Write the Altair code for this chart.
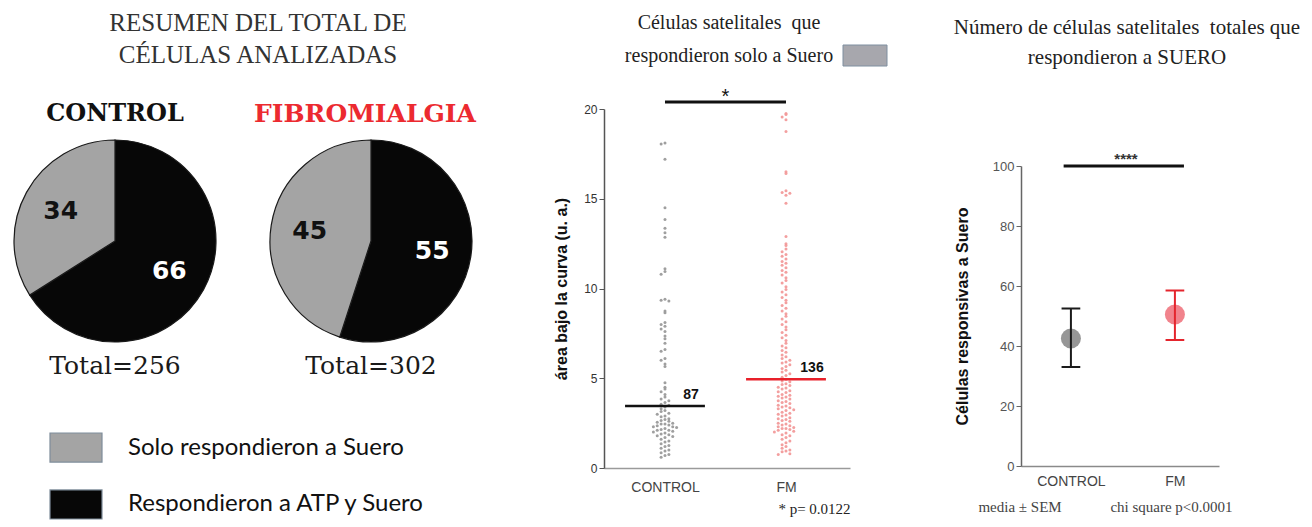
import json
import altair as alt
import pandas as pd

# ---------------- data ----------------
pie_groups = ["CONTROL", "FIBROMIALGIA"]
pie_totals = [256, 302]
pie_categories = ["Respondieron a ATP y Suero", "Solo respondieron a Suero"]
pie_control = [66, 34]
pie_fm = [55, 45]

groups = ["CONTROL", "FM"]
control_auc = [
    18.1, 18.05, 17.2, 14.5, 13.85, 13.35, 13.1, 12.85, 11.1, 10.95,
    10.8, 9.4, 9.35, 9.3, 8.75, 8.65, 8.1, 8.0, 7.9, 7.75,
    7.6, 7.35, 7.2, 6.95, 6.6, 6.5, 6.1, 6.0, 5.8, 5.65,
    4.75, 4.5, 4.4, 4.25, 4.1, 3.95, 3.85, 3.75, 3.65, 3.55,
    3.5, 3.4, 3.3, 3.2, 3.15, 3.05, 3.0, 2.9, 2.85, 2.75,
    2.7, 2.65, 2.6, 2.55, 2.5, 2.45, 2.45, 2.4, 2.35, 2.3,
    2.3, 2.25, 2.2, 2.15, 2.1, 2.1, 2.05, 2.0, 1.95, 1.9,
    1.85, 1.8, 1.75, 1.7, 1.6, 1.5, 1.45, 1.35, 1.25, 1.2,
    1.1, 1.0, 0.95, 0.85, 0.75, 0.7, 0.6,
]
fm_auc = [
    19.75, 19.7, 19.55, 19.4, 18.75, 16.5, 16.4, 15.45, 15.35, 15.3,
    15.2, 14.75, 12.9, 12.5, 12.4, 12.2, 12.05, 11.9, 11.8, 11.65,
    11.5, 11.4, 11.3, 11.15, 11.0, 10.9, 10.75, 10.6, 10.45, 10.3,
    10.1, 9.95, 9.8, 9.65, 9.5, 9.35, 9.2, 9.05, 8.9, 8.75,
    8.6, 8.45, 8.3, 8.15, 8.0, 7.85, 7.7, 7.55, 7.4, 7.25,
    7.1, 6.95, 6.8, 6.7, 6.55, 6.45, 6.3, 6.2, 6.1, 6.0,
    5.9, 5.85, 5.75, 5.65, 5.55, 5.45, 5.35, 5.25, 5.15, 5.05,
    4.95, 4.85, 4.8, 4.7, 4.65, 4.6, 4.5, 4.45, 4.4, 4.3,
    4.25, 4.2, 4.1, 4.05, 4.0, 3.95, 3.9, 3.85, 3.75, 3.7,
    3.65, 3.6, 3.5, 3.45, 3.4, 3.35, 3.3, 3.25, 3.2, 3.1,
    3.05, 3.0, 2.95, 2.9, 2.8, 2.75, 2.7, 2.65, 2.6, 2.5,
    2.45, 2.4, 2.35, 2.3, 2.25, 2.2, 2.2, 2.15, 2.1, 2.05,
    2.0, 1.95, 1.85, 1.8, 1.7, 1.6, 1.5, 1.4, 1.3, 1.2,
    1.1, 1.0, 0.95, 0.9, 0.8, 0.75,
]
group_n = [87, 136]
group_median = [3.45, 4.95]

mean_cells = [42.5, 50.5]
sem_low = [33.0, 42.0]
sem_high = [52.5, 58.5]

title_left = ["RESUMEN DEL TOTAL DE", "CÉLULAS ANALIZADAS"]
title_mid = ["Células satelitales\u00a0 que", "respondieron solo a Suero"]
title_right = ["Número de células satelitales\u00a0 totales que", "respondieron a SUERO"]
y_title_mid = "área bajo la curva (u. a.)"
y_title_right = "Células responsivas a Suero"
foot_mid = "* p= 0.0122"
foot_right = ["media ± SEM", "chi square p<0.0001"]

# ---------------- styles ----------------
BLACK = "#070707"
GRAY = "#a4a4a4"
RED = "#ec2a30"
SERIF = "Liberation Serif"
SANS = "Liberation Sans"
PIE = 202
PIE_GAP = 48
ROW_W = PIE * 2 + PIE_GAP

one = pd.DataFrame({"k": [0]})
pie_color = alt.Color("cat:N", scale=alt.Scale(domain=pie_categories, range=[BLACK, GRAY]), legend=None)

# ---------------- left column ----------------
hdr_resumen = alt.Chart(one).mark_text(
    text=title_left, font=SERIF, fontSize=25, lineHeight=32, color="#333333",
    align="center", baseline="top").encode(x=alt.value(244), y=alt.value(-1))
hdr_ctrl = alt.Chart(one).mark_text(
    text=pie_groups[0], font="DejaVu Serif", fontSize=24, fontWeight="bold", color="#111111",
    align="center", baseline="middle").encode(x=alt.value(PIE / 2), y=alt.value(102))
hdr_fm = alt.Chart(one).mark_text(
    text=pie_groups[1], font="DejaVu Serif", fontSize=25, fontWeight="bold", color=RED,
    align="center", baseline="middle").encode(x=alt.value(PIE + PIE_GAP + PIE / 2), y=alt.value(102))
header_left = alt.layer(hdr_resumen, hdr_ctrl, hdr_fm).properties(width=ROW_W, height=125)


def pie_chart(values, total):
    df = pd.DataFrame({"cat": pie_categories, "v": values})
    base = alt.Chart(df).encode(
        theta=alt.Theta("v:Q", stack=True),
        order=alt.Order("cat:N", sort="ascending"),
    )
    arcs = base.mark_arc(stroke="#1a1a1a", strokeWidth=1.2).encode(color=pie_color)
    labels = base.mark_text(radius=62, font="DejaVu Sans", fontWeight="bold", fontSize=25).encode(
        text="v:Q",
        color=alt.condition(alt.datum.cat == pie_categories[1], alt.value("#111111"), alt.value("#ffffff")),
    )
    return alt.layer(arcs, labels).properties(
        width=PIE, height=PIE,
        title=alt.TitleParams(f"Total={total}", orient="bottom", font="DejaVu Serif", fontSize=25,
                              fontWeight="normal", color="#1a1a1a", offset=10, anchor="middle"),
    )


pies_row = alt.hconcat(pie_chart(pie_control, pie_totals[0]), pie_chart(pie_fm, pie_totals[1]),
                       spacing=PIE_GAP)

leg_df = pd.DataFrame({"cat": [pie_categories[1], pie_categories[0]]})
leg_y = alt.Y("cat:N", sort=None, axis=None, scale=alt.Scale(paddingInner=0.49, paddingOuter=0))
leg_rect = alt.Chart(leg_df).mark_rect(stroke="#7f8d9b", strokeWidth=1.2).encode(
    x=alt.value(36), x2=alt.value(88), y=leg_y, color=pie_color)
leg_text = alt.Chart(leg_df).mark_text(align="left", baseline="middle", font="Lato", fontSize=24,
                                       color="#111111").encode(x=alt.value(114), y=leg_y, text="cat:N")
legend = alt.layer(leg_rect, leg_text).properties(width=ROW_W, height=86)

left_col = alt.vconcat(alt.vconcat(header_left, pies_row, spacing=0), legend, spacing=52)

# ---------------- middle: scatter ----------------
gi_expr = f"indexof({json.dumps(groups)}, datum.g)"
lab_expr = f"{json.dumps(groups)}[datum.value]"

xs2 = alt.Scale(domain=[-0.504, 1.529])
ys2 = alt.Scale(domain=[0, 20])
x_axis2 = alt.Axis(values=[0, 1], labelExpr=lab_expr, ticks=False, labelPadding=12, labelFont=SANS,
                   labelFontSize=14, labelColor="#444444", domainColor="#9a9a9a", domainWidth=1.5,
                   grid=False, title=foot_mid, titleFont=SERIF, titleFontSize=15, titleFontWeight="normal",
                   titleColor="#222222", titleX=210, titleY=40, titleAlign="center", titleBaseline="middle")
y_axis2 = alt.Axis(values=[0, 5, 10, 15, 20], title=y_title_mid, titleFont=SANS, titleFontSize=16,
                   titleFontWeight="bold", titleColor="#111111", titlePadding=14, labelFont=SANS,
                   labelFontSize=12, labelColor="#333333", labelPadding=2, tickSize=5, tickColor="#555555",
                   domainColor="#555555", domainWidth=1.5, grid=False)

sc_df = pd.DataFrame({"g": [groups[0]] * len(control_auc) + [groups[1]] * len(fm_auc),
                      "v": control_auc + fm_auc})
points = alt.Chart(sc_df).transform_calculate(
    gi=gi_expr, yb="floor(datum.v / 0.25)"
).transform_window(
    rn="row_number()", groupby=["g", "yb"]
).transform_calculate(
    off="((datum.rn - 1) % 2 == 0 ? 1 : -1) * ceil((datum.rn - 1) / 2)",
    xp="datum.gi + datum.off * 0.032",
).mark_circle(size=9, opacity=0.95).encode(
    x=alt.X("xp:Q", scale=xs2, axis=x_axis2),
    y=alt.Y("v:Q", scale=ys2, axis=y_axis2),
    color=alt.condition(alt.datum.g == groups[0], alt.value("#9a9a9a"), alt.value("#f29a9a")),
)

med_df = pd.DataFrame({"g": groups, "m": group_median, "n": group_n})
med_base = alt.Chart(med_df).transform_calculate(gi=gi_expr, x1="datum.gi - 0.33", x2="datum.gi + 0.33")
med_lines = med_base.mark_rule(strokeWidth=2.5).encode(
    x=alt.X("x1:Q", scale=xs2, axis=x_axis2), x2="x2:Q",
    y=alt.Y("m:Q", scale=ys2, axis=y_axis2),
    color=alt.condition(alt.datum.g == groups[0], alt.value("#111111"), alt.value("#e8202a")),
)
med_labels = med_base.mark_text(font=SANS, fontWeight="bold", fontSize=14, dx=26, dy=-11,
                                color="#111111").encode(
    x=alt.X("gi:Q", scale=xs2, axis=x_axis2), y=alt.Y("m:Q", scale=ys2, axis=y_axis2), text="n:Q")

sig2 = alt.Chart(one).mark_rule(strokeWidth=3, color="#111111").encode(
    x=alt.XDatum(0, scale=xs2, axis=x_axis2), x2=alt.datum(1), y=alt.value(-7))
star2 = alt.Chart(one).mark_text(text="*", font=SANS, fontSize=20, color="#111111").encode(
    x=alt.XDatum(0.5, scale=xs2, axis=x_axis2), y=alt.value(-12))

mid_body = alt.layer(points, med_lines, med_labels, sig2, star2).properties(width=246, height=359)

hdr_mid = alt.Chart(one).mark_text(
    text=title_mid, font=SERIF, fontSize=20, lineHeight=33, color="#222222",
    align="center", baseline="top").encode(x=alt.value(125), y=alt.value(1))
box_mid = alt.Chart(one).mark_rect(color="#a7a7ad", stroke="#7e8fa0", strokeWidth=1).encode(
    x=alt.value(239), x2=alt.value(283), y=alt.value(33), y2=alt.value(54))
header_mid = alt.layer(hdr_mid, box_mid).properties(width=246, height=75)

mid_col = alt.vconcat(header_mid, mid_body, spacing=0)

# ---------------- right: mean ± SEM ----------------
xs3 = alt.Scale(domain=[-0.48, 1.424])
ys3 = alt.Scale(domain=[0, 100])
nb = "\u00a0" * 13
x_axis3 = alt.Axis(values=[0, 1], labelExpr=lab_expr, ticks=False, labelPadding=8, labelFont=SANS,
                   labelFontSize=14, labelColor="#444444", domainColor="#8a8a8a", domainWidth=1.5,
                   grid=False, title=foot_right[0] + nb + foot_right[1], titleFont=SERIF, titleFontSize=15,
                   titleFontWeight="normal", titleColor="#444444", titleX=84, titleY=40,
                   titleAlign="center", titleBaseline="middle")
y_axis3 = alt.Axis(values=[0, 20, 40, 60, 80, 100], title=y_title_right, titleFont=SANS, titleFontSize=16,
                   titleFontWeight="bold", titleColor="#111111", titlePadding=22, labelFont=SANS,
                   labelFontSize=13, labelColor="#555555", labelPadding=2, tickSize=5, tickColor="#666666",
                   domainColor="#666666", domainWidth=1.5, grid=False)

mean_df = pd.DataFrame({"g": groups, "mean": mean_cells, "lo": sem_low, "hi": sem_high})
base3 = alt.Chart(mean_df).transform_calculate(gi=gi_expr, c1="datum.gi - 0.09", c2="datum.gi + 0.09")
bar_color = alt.condition(alt.datum.g == groups[0], alt.value("#1b1b1b"), alt.value("#e4252d"))
X3 = alt.X("gi:Q", scale=xs3, axis=x_axis3)
dots = base3.mark_circle(size=400, opacity=0.9).encode(
    x=X3, y=alt.Y("mean:Q", scale=ys3, axis=y_axis3),
    color=alt.condition(alt.datum.g == groups[0], alt.value("#8b8b8b"), alt.value("#f07680")),
)
bars = base3.mark_rule(strokeWidth=2).encode(
    x=X3, y=alt.Y("lo:Q", scale=ys3, axis=y_axis3), y2="hi:Q", color=bar_color)
caps_lo = base3.mark_rule(strokeWidth=2).encode(
    x=alt.X("c1:Q", scale=xs3, axis=x_axis3), x2="c2:Q", y=alt.Y("lo:Q", scale=ys3, axis=y_axis3),
    color=bar_color)
caps_hi = base3.mark_rule(strokeWidth=2).encode(
    x=alt.X("c1:Q", scale=xs3, axis=x_axis3), x2="c2:Q", y=alt.Y("hi:Q", scale=ys3, axis=y_axis3),
    color=bar_color)
sig3 = alt.Chart(one).mark_rule(strokeWidth=3, color="#111111").encode(
    x=alt.XDatum(-0.07, scale=xs3, axis=x_axis3), x2=alt.datum(1.087),
    y=alt.YDatum(100, scale=ys3, axis=y_axis3))
star3 = alt.Chart(one).mark_text(text="****", font=SANS, fontSize=15, fontWeight="bold",
                                 color="#333333").encode(
    x=alt.XDatum(0.53, scale=xs3, axis=x_axis3), y=alt.value(-7))

right_body = alt.layer(dots, bars, caps_lo, caps_hi, sig3, star3).properties(width=198, height=300)

hdr_right = alt.Chart(one).mark_text(
    text=title_right, font=SERIF, fontSize=21, lineHeight=30, color="#222222",
    align="center", baseline="top").encode(x=alt.value(106), y=alt.value(5))
header_right = hdr_right.properties(width=198, height=140)

right_col = alt.vconcat(header_right, right_body, spacing=0)

chart = alt.hconcat(
    left_col,
    alt.hconcat(mid_col, right_col, spacing=65),
    spacing=77,
).properties(
    padding={"left": 3, "top": 3, "right": 0, "bottom": 0}
).configure(font=SANS).configure_view(stroke=None)

chart.save("out.html", embed_options={"renderer": "svg", "actions": False})
